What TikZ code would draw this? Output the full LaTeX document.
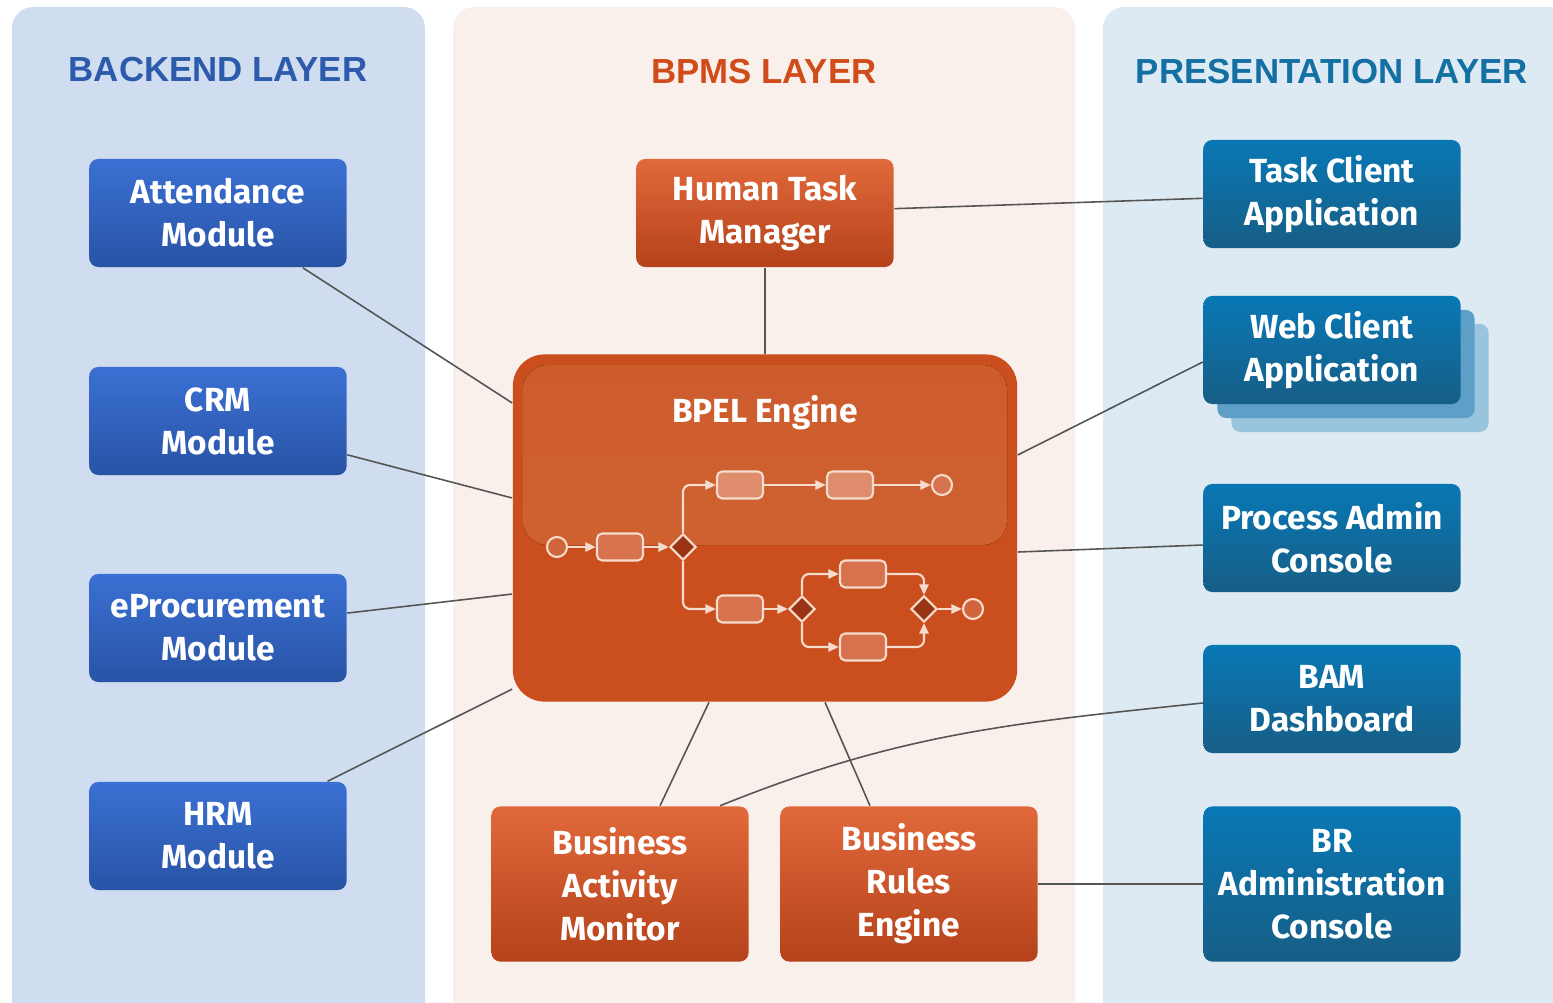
\documentclass[tikz,border=0pt]{standalone}
\usepackage{fontspec}
\setmainfont{Fira Sans}
\newfontfamily\headfont{Liberation Sans}
\usetikzlibrary{shapes.geometric,arrows.meta}

\definecolor{backpanel}{HTML}{D0DDF0}
\definecolor{bpmspanel}{HTML}{FAF0EB}
\definecolor{prespanel}{HTML}{DDEAF3}
\definecolor{backhead}{HTML}{2B5BAA}
\definecolor{bpmshead}{HTML}{D04D1B}
\definecolor{preshead}{HTML}{146FA3}
\definecolor{backtop}{HTML}{3A70D3}
\definecolor{backbot}{HTML}{2954A6}
\definecolor{prestop}{HTML}{0878B5}
\definecolor{presbot}{HTML}{175E86}
\definecolor{orgtop}{HTML}{E1693B}
\definecolor{orgbot}{HTML}{B5421A}
\definecolor{webshadowa}{HTML}{5E9FC8}
\definecolor{webshadowb}{HTML}{98C4DD}
\definecolor{bpelbase}{HTML}{CB4F1E}
\definecolor{glosstop}{HTML}{CD5C2D}
\definecolor{glossmid}{HTML}{D6744F}
\definecolor{glossbot}{HTML}{CF6131}
\definecolor{taskhi}{HTML}{DF8C6D}
\definecolor{tasklo}{HTML}{D8714D}
\definecolor{eventhi}{HTML}{D77450}
\definecolor{eventlo}{HTML}{D0643C}
\definecolor{gatefill}{HTML}{9A3414}
\definecolor{flowline}{HTML}{F6DCCD}
\definecolor{linkgray}{HTML}{555555}

\tikzset{
  boxtext/.style={text=white, align=center, font=\fontsize{9.5}{12.2}\selectfont\bfseries},
  headtext/.style={font=\headfont\fontsize{9.9}{11}\selectfont\bfseries},
  modbox/.style={boxtext, rounded corners=2.5pt, minimum width=2.57cm, minimum height=1.08cm, inner sep=1pt},
  backbox/.style={modbox, top color=backtop, bottom color=backbot},
  presbox/.style={modbox, top color=prestop, bottom color=presbot},
  orgbox/.style={modbox, top color=orgtop, bottom color=orgbot},
  tallbox/.style={minimum height=1.55cm},
  webshadow/.style={rounded corners=2.5pt, minimum width=2.57cm, minimum height=1.08cm},
  bpelbox/.style={rounded corners=9pt, fill=bpelbase, minimum width=5.04cm, minimum height=3.47cm},
  link/.style={draw=linkgray, line width=0.45pt},
  task/.style={draw=flowline, line width=0.6pt, rounded corners=1.5pt, minimum width=0.46cm, minimum height=0.27cm, inner sep=0pt},
  event/.style={circle, draw=flowline, line width=0.6pt, minimum size=0.2cm, inner sep=0pt},
  gate/.style={diamond, draw=flowline, fill=gatefill, line width=0.6pt, minimum width=0.26cm, minimum height=0.26cm, inner sep=0pt},
  flow/.style={draw=flowline, line width=0.6pt, rounded corners=2pt, -{Triangle[length=3pt,width=2.6pt]}}
}

\begin{document}
\begin{tikzpicture}[x=0.01cm,y=-0.01cm]
  \useasboundingbox (0,0) rectangle (1553,1003);
  \clip (0,0) rectangle (1553,1003);

  \fill[backpanel, rounded corners=6pt] (12,7) rectangle (425,1030);
  \fill[bpmspanel, rounded corners=6pt] (453,7) rectangle (1075,1030);
  \fill[prespanel, rounded corners=6pt] (1103,7) rectangle (1590,1030);

  \node[headtext, text=backhead] (backtitle) at (218,70) {BACKEND LAYER};
  \node[headtext, text=bpmshead] (bpmstitle) at (764,72) {BPMS LAYER};
  \node[headtext, text=preshead] (prestitle) at (1332,72) {PRESENTATION LAYER};

  \node[backbox] (att) at (218,213) {Attendance\\Module};
  \node[backbox] (crm) at (218,421) {CRM\\Module};
  \node[backbox] (eproc) at (218,628) {eProcurement\\Module};
  \node[backbox] (hrm) at (218,836) {HRM\\Module};

  \node[orgbox] (htm) at (765,213) {Human Task\\Manager};
  \node[orgbox, tallbox] (bam) at (620,884) {Business\\Activity\\Monitor};
  \node[orgbox, tallbox] (bre) at (909,884) {Business\\Rules\\Engine};

  \node[presbox] (tca) at (1332,194) {Task Client\\Application};
  \node[webshadow, fill=webshadowb] (wcb) at (1360,378) {};
  \node[webshadow, fill=webshadowa] (wca) at (1346,364) {};
  \node[presbox] (wca0) at (1332,350) {Web Client\\Application};
  \node[presbox] (pac) at (1332,538) {Process Admin\\Console};
  \node[presbox] (dash) at (1332,699) {BAM\\Dashboard};
  \node[presbox, tallbox] (bra) at (1332,884) {BR\\Administration\\Console};

  \node[bpelbox] (bpel) at (765,528) {};
  \fill[rounded corners=7pt, top color=glosstop, middle color=glossmid, bottom color=glossbot] (523,365) rectangle (1007,545);
  \node[boxtext] (bpeltitle) at (765,413) {BPEL Engine};

  \node[event, fill=eventlo] (s0) at (557,547) {};
  \node[task, fill=tasklo] (t1) at (620,547) {};
  \node[gate] (g1) at (683,547) {};
  \node[task, fill=taskhi] (t2) at (740,485) {};
  \node[task, fill=taskhi] (t3) at (850,485) {};
  \node[event, fill=eventhi] (e1) at (942,485) {};
  \node[task, fill=tasklo] (t4) at (740,609) {};
  \node[gate] (g2) at (802,609) {};
  \node[task, fill=tasklo] (t5) at (863,574) {};
  \node[task, fill=tasklo] (t6) at (863,647) {};
  \node[gate] (g3) at (924,609) {};
  \node[event, fill=eventlo] (e2) at (973,609) {};

  \draw[flow] (s0) -- (t1);
  \draw[flow] (t1) -- (g1);
  \draw[flow] (g1) |- (t2);
  \draw[flow] (t2) -- (t3);
  \draw[flow] (t3) -- (e1);
  \draw[flow] (g1) |- (t4);
  \draw[flow] (t4) -- (g2);
  \draw[flow] (g2) |- (t5);
  \draw[flow] (g2) |- (t6);
  \draw[flow] (t5) -| (g3);
  \draw[flow] (t6) -| (g3);
  \draw[flow] (g3) -- (e2);

  \draw[link] (att) -- ([yshift=1.25cm]bpel.west);
  \draw[link] (crm) -- ([yshift=0.30cm]bpel.west);
  \draw[link] (eproc) -- ([yshift=-0.66cm]bpel.west);
  \draw[link] (hrm) -- ([yshift=-1.61cm]bpel.west);
  \draw[link] (htm) -- (bpel);
  \draw[link] (htm) -- (tca);
  \draw[link] ([yshift=0.73cm]bpel.east) -- ([yshift=-0.12cm]wca0.west);
  \draw[link] ([yshift=-0.24cm]bpel.east) -- ([yshift=-0.07cm]pac.west);
  \draw[link] ([xshift=-0.56cm]bpel.south) -- ([xshift=0.40cm]bam.north);
  \draw[link] ([xshift=0.60cm]bpel.south) -- ([xshift=-0.39cm]bre.north);
  \draw[link] ([xshift=1.00cm]bam.north) to[out=22, in=186] ([yshift=-0.04cm]dash.west);
  \draw[link] (bre) -- (bra);
\end{tikzpicture}
\end{document}
